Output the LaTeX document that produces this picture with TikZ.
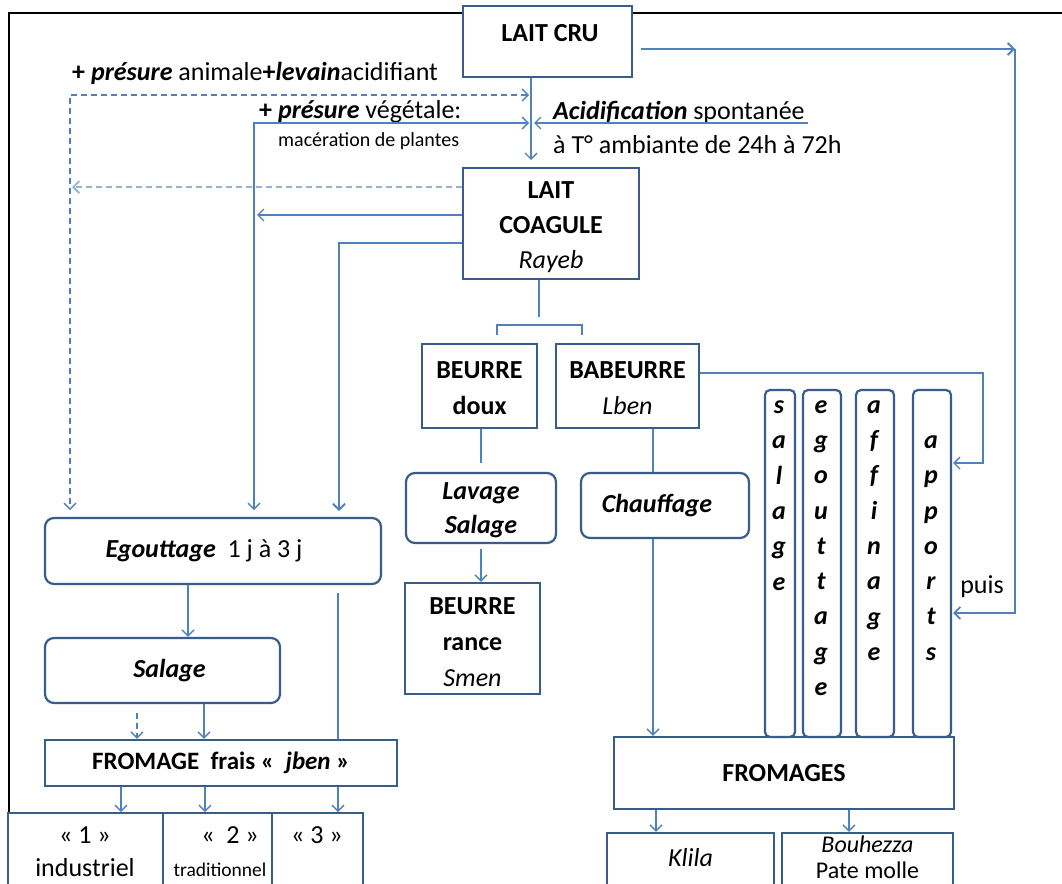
\documentclass[tikz,border=0pt]{standalone}
\usepackage{fontspec}
\setmainfont{Carlito}
\usetikzlibrary{arrows.meta,calc}
\definecolor{bx}{RGB}{56,93,138}
\definecolor{ln}{RGB}{79,129,189}
\definecolor{lnl}{RGB}{149,179,215}
\newcommand\flstrut{\rule{0pt}{25pt}}
\begin{document}
\begin{tikzpicture}[x=1pt,y=-1pt,
  >={Straight Barb[length=6pt,width=12pt]},
  every node/.style={inner sep=0pt, font=\fontsize{26}{30}\selectfont},
  box/.style={draw=bx, line width=2.2pt, fill=white, align=center},
  rbox/.style={box, rounded corners=9pt},
  vbox/.style={box, rounded corners=5pt, minimum width=#1, minimum height=347},
  con/.style={draw=ln, line width=1.4pt},
  dsh/.style={dash pattern=on 6pt off 4pt},
  lbl/.style={anchor=west},
  vtxt/.style={align=center, font=\fontsize{26}{35.3}\selectfont\bfseries\itshape}
]
\useasboundingbox (0,0) rectangle (1062,883);
\fill[white] (0,0) rectangle (1062,883);
% frame
\draw[black, line width=1.3pt] (9,900) -- (9,13) -- (1070,13);

% boxes
\node[box, minimum width=169, minimum height=71] (laitcru) at (547.5,41.5) {};
\node[font=\fontsize{26}{30}\selectfont\bfseries] (laitcrut) at (550,33) {LAIT CRU};
\node[box, minimum width=176, minimum height=111, font=\fontsize{26}{35}\selectfont] (laitcoag) at (551,223.5) {\flstrut\textbf{LAIT}\\\textbf{COAGULE}\\\textit{Rayeb}};
\node[box, minimum width=115, minimum height=84, font=\fontsize{26}{36}\selectfont\bfseries] (beurredoux) at (479.5,386) {\rule{0pt}{21pt}BEURRE\\doux};
\node[box, minimum width=143, minimum height=84, font=\fontsize{26}{36}\selectfont] (babeurre) at (627.5,386) {\rule{0pt}{21pt}\textbf{BABEURRE}\\\textit{Lben}};
\node[rbox, minimum width=150, minimum height=70, font=\fontsize{26}{34}\selectfont\bfseries\itshape] (lavage) at (481,508) {\rule{0pt}{21pt}Lavage\\Salage};
\node[rbox, minimum width=168, minimum height=65, font=\fontsize{26}{30}\selectfont\bfseries\itshape] (chauffage) at (665,505.5) {Chauffage\hspace*{16pt}};
\node[box, minimum width=135, minimum height=111, font=\fontsize{26}{36}\selectfont] (beurrerance) at (472.5,638.5) {\flstrut\textbf{BEURRE}\\\textbf{rance}\\\textit{Smen}};
\node[box, minimum width=340, minimum height=72, font=\fontsize{26}{30}\selectfont\bfseries] (fromages) at (784,773) {FROMAGES};
\node[box, minimum width=167, minimum height=67] (klila) at (690.5,866.5) {};
\node[font=\fontsize{26}{30}\selectfont\itshape] (klilat) at (690.5,858) {Klila};
\node[box, minimum width=171, minimum height=67] (bouhezza) at (867.5,866.5) {};
\node[font=\fontsize{24}{30}\selectfont\itshape] (bouhezzat) at (867.5,844) {Bouhezza};
\node[font=\fontsize{24}{30}\selectfont] (patet) at (867.5,870) {Pate molle};

\node[rbox, minimum width=336, minimum height=66, font=\fontsize{26}{30}\selectfont] (egouttage) at (213,551) {\textbf{\textit{Egouttage}}\ \ 1 j à 3 j\hspace*{18pt}};
\node[rbox, minimum width=235, minimum height=65, font=\fontsize{26}{30}\selectfont\bfseries\itshape] (salagebox) at (162.5,670.5) {\hspace*{14pt}Salage};
\node[box, minimum width=352, minimum height=46, font=\fontsize{25}{30}\selectfont\bfseries] (fromfrais) at (221,763) {FROMAGE\ \ frais «\ \ \textit{jben} »};
\node[box, line width=2pt, minimum width=155, minimum height=87] (b1) at (85.5,856.5) {};
\node[box, line width=2pt, minimum width=109, minimum height=87] (b2) at (217.5,856.5) {};
\node[box, line width=2pt, minimum width=91, minimum height=87] (b3) at (317.5,856.5) {};
\node (b1a) at (85,835) {« 1 »};
\node (b1b) at (85,868) {industriel};
\node (b2a) at (230,835) {«\ \ 2 »};
\node[font=\fontsize{19.5}{24}\selectfont] (b2b) at (220,870) {traditionnel};
\node (b3a) at (317,835) {« 3 »};

% vertical boxes
\node[vbox=30] (vs) at (780,563.5) {};
\node[vbox=38] (ve) at (822,563.5) {};
\node[vbox=38] (va) at (875,563.5) {};
\node[vbox=38] (vp) at (932,563.5) {};
\node[vtxt] (vst) at (779,495.5) {s\\a\\l\\a\\g\\e};
\node[vtxt] (vet) at (821,548) {e\\g\\o\\u\\t\\t\\a\\g\\e};
\node[vtxt] (vat) at (874,530.5) {a\\f\\f\\i\\n\\a\\g\\e};
\node[vtxt] (vpt) at (931,548) {a\\p\\p\\o\\r\\t\\s};

% free texts
\node[lbl] (t1) at (72,73) {\textbf{+ \textit{présure}} animale\textbf{+\textit{levain}}acidifiant};
\node[lbl] (t2) at (259,112) {\textbf{+ \textit{présure}} végétale:};
\node[lbl, font=\fontsize{20}{24}\selectfont] (t3) at (278,141) {macération de plantes};
\node[lbl] (t4) at (553,112) {\textbf{\textit{Acidification}} spontanée};
\node[lbl] (t5) at (553,145) {à T° ambiante de 24h à 72h};
\node (puis) at (982,587) {puis};

% coordinates
\coordinate (vx) at (531,0);
\coordinate (c0) at (531,160);
\coordinate (dA) at (529,95);
\coordinate (dL) at (70,95);
\coordinate (dB) at (70,510);
\coordinate (sA) at (529,123);
\coordinate (sL) at (254,123);
\coordinate (sB) at (254,510);
\coordinate (aR) at (808,123);
\coordinate (aL) at (534,123);
\coordinate (e1) at (72,187);
\coordinate (e2) at (257,215);
\coordinate (e3) at (339,243);
\coordinate (e3b) at (339,511);
\coordinate (k1) at (539,317);
\coordinate (bl) at (497,335);
\coordinate (br) at (582,335);
\coordinate (bd) at (481,463);
\coordinate (bx1) at (653,0);
\coordinate (r1) at (983,373);
\coordinate (r2) at (953,463);
\coordinate (q0) at (641,49);
\coordinate (q1) at (1015,49);
\coordinate (q2) at (953,613);
\coordinate (lv) at (481,549);
\coordinate (fk) at (656,0);
\coordinate (fb) at (849,0);
\coordinate (g1) at (188,0);
\coordinate (sd) at (137,713);
\coordinate (g2) at (204,0);
\coordinate (v3) at (338,593);
\coordinate (h1) at (121,0);
\coordinate (h2) at (205,0);
\coordinate (h3) at (338,0);

% connectors
\draw[con,->] (laitcru.south -| vx) -- (c0);
\draw[con,dsh,<->] (dA) -- (dL) -- (dB);
\draw[con,<->] (sA) -- (sL) -- (sB);
\draw[con,->] (aR) -- (aL);
\draw[con,draw=lnl,line width=1.8pt,dsh,->] (laitcoag.west |- e1) -- (e1);
\draw[con,->] (laitcoag.west |- e2) -- (e2);
\draw[con,line width=1.8pt,->] (laitcoag.west |- e3) -- (e3) -- (e3b);
\draw[con,line width=2.4pt] (laitcoag.south -| k1) -- (k1);
\draw[con] (bl) -- ++(0,-10) -| (br);
\draw[con] (beurredoux.south -| bd) -- (bd);
\draw[con] (babeurre.south -| bx1) -- (chauffage.north -| bx1);
\draw[con,->] (babeurre.east |- r1) -- (r1) |- (r2);
\draw[con,line width=1.8pt,->] (q0) -- (q1);
\draw[con,line width=1.8pt,->] (q1) |- (q2);
\draw[con,->] (lv) -- (beurrerance.north -| lv);
\draw[con,->] (chauffage.south -| bx1) -- (fromages.north -| bx1);
\draw[con,->] (fromages.south -| fk) -- (klila.north -| fk);
\draw[con,->] (fromages.south -| fb) -- (bouhezza.north -| fb);
\draw[con,->] (egouttage.south -| g1) -- (salagebox.north -| g1);
\draw[con,dsh,->] (sd) -- (fromfrais.north -| sd);
\draw[con,->] (salagebox.south -| g2) -- (fromfrais.north -| g2);
\draw[con,line width=1.1pt] (v3) -- (fromfrais.north -| v3);
\draw[con,->] (fromfrais.south -| h1) -- (b1.north -| h1);
\draw[con,->] (fromfrais.south -| h2) -- (b2.north -| h2);
\draw[con,->] (fromfrais.south -| h3) -- (b3.north -| h3);
\end{tikzpicture}
\end{document}
